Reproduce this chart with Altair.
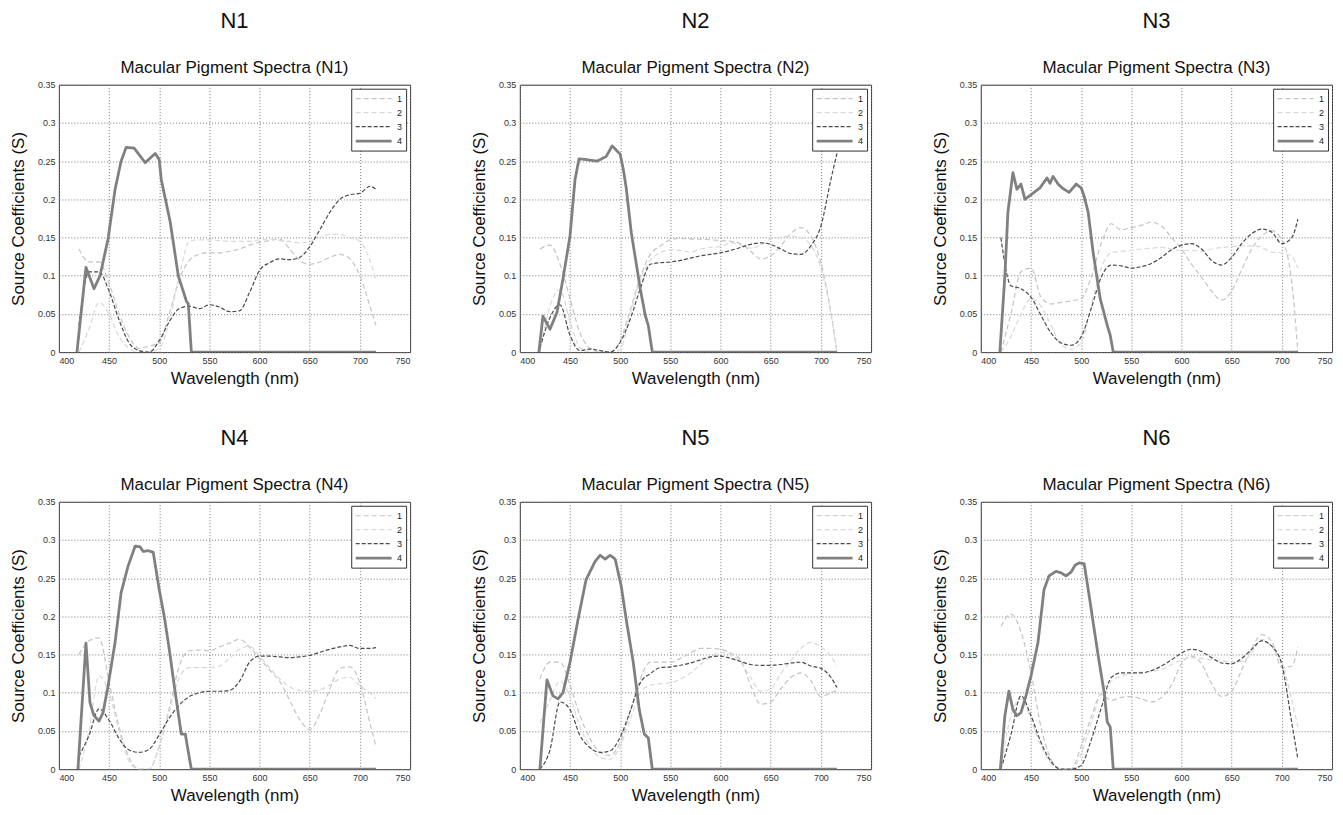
import altair as alt
import pandas as pd

FONT = "Liberation Sans"

# common wavelength grid for components 1-3
WL = [420, 430, 440, 450, 460, 470, 480, 490, 500, 510, 520, 530, 540, 550, 560,
      570, 580, 590, 600, 610, 620, 630, 640, 650, 660, 670, 680, 690, 700, 710, 716]

X_TICKS = [400, 450, 500, 550, 600, 650, 700, 750]
Y_TICKS = [0, 0.05, 0.1, 0.15, 0.2, 0.25, 0.3, 0.35]
SERIES = ["1", "2", "3", "4"]

# ---------------- N1 ----------------
N1_S1 = [0.135, 0.118, 0.118, 0.09, 0.05, 0.02, 0.005, 0.008, 0.012, 0.05, 0.095, 0.12,
         0.128, 0.13, 0.13, 0.132, 0.135, 0.14, 0.144, 0.146, 0.148, 0.135, 0.12, 0.115,
         0.118, 0.124, 0.128, 0.122, 0.1, 0.06, 0.035]
N1_S2 = [0.0, 0.03, 0.065, 0.05, 0.02, 0.005, 0.0, 0.0, 0.005, 0.04, 0.1, 0.145,
         0.147, 0.147, 0.146, 0.145, 0.145, 0.145, 0.147, 0.148, 0.146, 0.145, 0.143, 0.145,
         0.15, 0.154, 0.154, 0.15, 0.145, 0.12, 0.095]
N1_S3 = [0.035, 0.105, 0.105, 0.08, 0.042, 0.012, 0.002, 0.0, 0.015, 0.04, 0.057, 0.06,
         0.057, 0.062, 0.059, 0.053, 0.054, 0.078, 0.107, 0.117, 0.122, 0.121, 0.124, 0.138,
         0.16, 0.183, 0.2, 0.206, 0.208, 0.217, 0.213]
N1_S4_WL = [418, 427, 435, 441, 449, 456, 462, 467, 475, 486, 496, 500, 502, 511, 519, 527, 529, 532, 716]
N1_S4 = [0, 0.111, 0.083, 0.1, 0.148, 0.213, 0.25, 0.268, 0.267, 0.248, 0.26, 0.252, 0.226,
         0.17, 0.1, 0.067, 0.063, 0, 0]

# ---------------- N2 ----------------
N2_S1 = [0.135, 0.14, 0.115, 0.07, 0.025, 0.005, 0.0, 0.0, 0.015, 0.055, 0.098, 0.128,
         0.139, 0.147, 0.149, 0.148, 0.148, 0.147, 0.146, 0.145, 0.142, 0.132, 0.122, 0.126,
         0.139, 0.155, 0.163, 0.152, 0.117, 0.052, 0.0]
N2_S2 = [0.0, 0.06, 0.082, 0.04, 0.006, 0.0, 0.0, 0.0, 0.003, 0.05, 0.095, 0.12,
         0.13, 0.134, 0.133, 0.131, 0.135, 0.137, 0.138, 0.143, 0.14, 0.136, 0.14, 0.148,
         0.15, 0.152, 0.15, 0.14, 0.11, 0.05, 0.0]
N2_S3 = [0.005, 0.045, 0.062, 0.022, 0.002, 0.004, 0.002, 0.0, 0.013, 0.043, 0.083, 0.115,
         0.117, 0.118, 0.12, 0.123, 0.126, 0.128, 0.13, 0.133, 0.137, 0.141, 0.143, 0.141,
         0.135, 0.129, 0.128, 0.139, 0.165, 0.226, 0.26]
N2_S4_WL = [419, 423, 430, 437, 443, 450, 455, 459, 466, 477, 486, 492, 500, 503, 506, 511,
            520, 525, 528, 532, 716]
N2_S4 = [0, 0.047, 0.03, 0.052, 0.096, 0.152, 0.226, 0.253, 0.252, 0.25, 0.256, 0.27, 0.259,
         0.24, 0.215, 0.157, 0.083, 0.048, 0.035, 0, 0]

# ---------------- N3 ----------------
N3_S1 = [0.0, 0.05, 0.105, 0.11, 0.072, 0.063, 0.065, 0.067, 0.07, 0.098, 0.142, 0.168,
         0.16, 0.163, 0.166, 0.17, 0.165, 0.15, 0.135, 0.115, 0.098, 0.08, 0.068, 0.08,
         0.108, 0.135, 0.152, 0.159, 0.147, 0.09, 0.0]
N3_S2 = [0.0, 0.02, 0.05, 0.07, 0.06, 0.035, 0.01, 0.004, 0.012, 0.06, 0.11, 0.13,
         0.132, 0.133, 0.135, 0.136, 0.137, 0.135, 0.133, 0.133, 0.132, 0.135, 0.137, 0.138,
         0.139, 0.139, 0.137, 0.131, 0.13, 0.125, 0.11]
N3_S3 = [0.15, 0.087, 0.083, 0.072, 0.048, 0.025, 0.012, 0.009, 0.02, 0.057, 0.098, 0.114,
         0.113, 0.11, 0.112, 0.116, 0.124, 0.134, 0.14, 0.142, 0.135, 0.12, 0.114, 0.124,
         0.142, 0.155, 0.161, 0.157, 0.142, 0.15, 0.174]
N3_S4_WL = [419, 424, 427, 432, 436, 440, 444, 451, 459, 466, 469, 472, 477, 481, 488, 495,
            500, 503, 507, 512, 519, 526, 529, 532, 716]
N3_S4 = [0, 0.1, 0.183, 0.235, 0.213, 0.22, 0.2, 0.207, 0.215, 0.228, 0.221, 0.23, 0.22,
         0.215, 0.209, 0.22, 0.215, 0.204, 0.183, 0.13, 0.07, 0.035, 0.022, 0, 0]

# ---------------- N4 ----------------
N4_S1 = [0.15, 0.168, 0.172, 0.115, 0.055, 0.015, 0.0, 0.0, 0.03, 0.08, 0.135, 0.155,
         0.156, 0.155, 0.16, 0.165, 0.17, 0.16, 0.145, 0.13, 0.115, 0.09, 0.065, 0.052,
         0.072, 0.105, 0.132, 0.134, 0.113, 0.06, 0.03]
N4_S2 = [0.0, 0.05, 0.122, 0.1, 0.05, 0.01, 0.0, 0.0, 0.03, 0.075, 0.12, 0.133,
         0.133, 0.133, 0.135, 0.145, 0.157, 0.161, 0.148, 0.133, 0.118, 0.108, 0.103, 0.102,
         0.104, 0.11, 0.118, 0.12, 0.109, 0.1, 0.092]
N4_S3 = [0.017, 0.044, 0.079, 0.064, 0.04, 0.025, 0.022, 0.026, 0.045, 0.067, 0.084, 0.095,
         0.1, 0.102, 0.102, 0.103, 0.115, 0.14, 0.148, 0.148, 0.147, 0.146, 0.147, 0.149,
         0.153, 0.157, 0.16, 0.162, 0.158, 0.158, 0.159]
N4_S4_WL = [419, 427, 431, 435, 440, 444, 449, 456, 462, 469, 476, 481, 484, 489, 494, 500,
            505, 510, 515, 522, 526, 528, 532, 716]
N4_S4 = [0, 0.165, 0.087, 0.07, 0.063, 0.074, 0.109, 0.166, 0.231, 0.266, 0.292, 0.291,
         0.285, 0.286, 0.284, 0.235, 0.2, 0.157, 0.109, 0.046, 0.046, 0.03, 0, 0]

# ---------------- N5 ----------------
N5_S1 = [0.118, 0.14, 0.14, 0.11, 0.07, 0.04, 0.022, 0.018, 0.035, 0.075, 0.118, 0.14,
         0.14, 0.14, 0.145, 0.152, 0.158, 0.158, 0.157, 0.152, 0.143, 0.11, 0.085, 0.088,
         0.105, 0.12, 0.126, 0.116, 0.095, 0.1, 0.103]
N5_S2 = [0.06, 0.09, 0.115, 0.095, 0.055, 0.03, 0.015, 0.013, 0.03, 0.065, 0.1, 0.11,
         0.112, 0.113, 0.118, 0.126, 0.137, 0.147, 0.153, 0.15, 0.14, 0.12, 0.102, 0.105,
         0.125, 0.142, 0.158, 0.166, 0.16, 0.148, 0.135]
N5_S3 = [0.0, 0.025, 0.088, 0.078, 0.044, 0.028, 0.022, 0.024, 0.042, 0.076, 0.113, 0.125,
         0.133, 0.134, 0.136, 0.139, 0.143, 0.147, 0.148, 0.145, 0.141, 0.137, 0.136, 0.136,
         0.137, 0.139, 0.14, 0.135, 0.132, 0.12, 0.107]
N5_S4_WL = [420, 427, 433, 438, 443, 450, 458, 466, 475, 480, 485, 490, 495, 501, 506, 513,
            519, 524, 528, 532, 716]
N5_S4 = [0, 0.117, 0.096, 0.092, 0.1, 0.14, 0.196, 0.248, 0.272, 0.28, 0.275, 0.28, 0.275,
         0.24, 0.196, 0.14, 0.078, 0.046, 0.041, 0, 0]

# ---------------- N6 ----------------
N6_S1 = [0.187, 0.203, 0.18, 0.126, 0.055, 0.013, 0.0, 0.0, 0.03, 0.068, 0.098, 0.09,
         0.094, 0.095, 0.092, 0.088, 0.094, 0.11, 0.138, 0.148, 0.138, 0.112, 0.095, 0.102,
         0.13, 0.158, 0.176, 0.167, 0.133, 0.135, 0.16]
N6_S2 = [0.0, 0.07, 0.092, 0.065, 0.03, 0.008, 0.0, 0.0, 0.02, 0.06, 0.1, 0.115,
         0.122, 0.125, 0.127, 0.128, 0.13, 0.137, 0.143, 0.146, 0.145, 0.143, 0.142, 0.14,
         0.141, 0.152, 0.17, 0.16, 0.14, 0.09, 0.055]
N6_S3 = [0.0, 0.045, 0.096, 0.07, 0.035, 0.01, 0.0, 0.0, 0.005, 0.038, 0.08, 0.12,
         0.126, 0.126, 0.126, 0.129, 0.135, 0.143, 0.152, 0.157, 0.154, 0.146, 0.139, 0.138,
         0.145, 0.157, 0.168, 0.161, 0.137, 0.06, 0.013]
N6_S4_WL = [419.5, 424, 428, 432, 436, 440, 445, 450, 457, 463, 468, 475, 480, 485, 490, 494,
            498, 503, 508, 513, 518, 523, 526, 529, 532, 716]
N6_S4 = [0, 0.07, 0.102, 0.078, 0.07, 0.074, 0.096, 0.122, 0.166, 0.235, 0.253, 0.259, 0.257,
         0.253, 0.258, 0.267, 0.27, 0.269, 0.227, 0.183, 0.14, 0.1, 0.062, 0.055, 0, 0]

PANELS = [
    ("N1", N1_S1, N1_S2, N1_S3, N1_S4_WL, N1_S4),
    ("N2", N2_S1, N2_S2, N2_S3, N2_S4_WL, N2_S4),
    ("N3", N3_S1, N3_S2, N3_S3, N3_S4_WL, N3_S4),
    ("N4", N4_S1, N4_S2, N4_S3, N4_S4_WL, N4_S4),
    ("N5", N5_S1, N5_S2, N5_S3, N5_S4_WL, N5_S4),
    ("N6", N6_S1, N6_S2, N6_S3, N6_S4_WL, N6_S4),
]

COLORS = ["#c4c4c4", "#d9d9d9", "#4a4a4a", "#808080"]
DASHES = [[5, 3], [5, 3], [4, 2], [1, 0]]
WIDTHS = [1.2, 1.2, 1.2, 2.8]


def panel(name, s1, s2, s3, wl4, s4):
    rows = []
    for lab, vals in (("1", s1), ("2", s2), ("3", s3)):
        rows += [{"wl": w, "v": v, "series": lab} for w, v in zip(WL, vals)]
    rows += [{"wl": w, "v": v, "series": "4"} for w, v in zip(wl4, s4)]
    df = pd.DataFrame(rows)

    enc = dict(
        x=alt.X("wl:Q", scale=alt.Scale(domain=[400, 750], nice=False, zero=False),
                axis=alt.Axis(values=X_TICKS, title="Wavelength (nm)", format="d")),
        y=alt.Y("v:Q", scale=alt.Scale(domain=[0, 0.35], nice=False),
                axis=alt.Axis(values=Y_TICKS, title="Source Coefficients (S)", format="~g")),
        color=alt.Color("series:N", title=None,
                        scale=alt.Scale(domain=SERIES, range=COLORS)),
        strokeDash=alt.StrokeDash("series:N", title=None,
                                  scale=alt.Scale(domain=SERIES, range=DASHES)),
        strokeWidth=alt.StrokeWidth("series:N", title=None,
                                    scale=alt.Scale(type="ordinal", domain=SERIES, range=WIDTHS)),
    )
    base = alt.Chart(df)
    dashed = base.transform_filter(alt.datum.series != "4").mark_line(
        interpolate="monotone", clip=True).encode(**enc)
    solid = base.transform_filter(alt.datum.series == "4").mark_line(
        clip=True, strokeJoin="round").encode(**enc)
    return alt.layer(dashed, solid).properties(
        width=352, height=268,
        title=alt.TitleParams(
            text=name, subtitle=f"Macular Pigment Spectra ({name})",
            font=FONT, fontSize=22, fontWeight="normal", color="#111",
            subtitleFont=FONT, subtitleFontSize=17, subtitleColor="#111",
            subtitlePadding=27, offset=4, anchor="middle", frame="group"),
    )


charts = [panel(*p) for p in PANELS]

IND = dict(color="independent", strokeDash="independent", strokeWidth="independent")


def row(cs):
    return alt.hconcat(*cs, spacing=58).resolve_scale(**IND).resolve_legend(**IND)


chart = alt.vconcat(row(charts[:3]), row(charts[3:]), spacing=39).resolve_scale(
    **IND).resolve_legend(**IND).configure(
    background="white", padding={"left": 0, "top": 0, "right": 2, "bottom": 0}
).configure_view(
    stroke="#333", strokeWidth=1
).configure_axis(
    grid=True, gridColor="#777", gridDash=[1, 2], gridOpacity=1, gridWidth=1,
    domain=False, ticks=False,
    labelFont=FONT, labelFontSize=9, labelColor="#333", labelPadding=4,
    titleFont=FONT, titleFontSize=17, titleFontWeight="normal", titleColor="#111",
).configure_axisY(titlePadding=10).configure_axisX(titlePadding=5).configure_legend(
    orient="top-right", offset=4, strokeColor="#333", fillColor="white",
    padding=3, symbolType="M-3,0H3", symbolSize=144, labelFont=FONT,
    labelFontSize=9, labelColor="#222", rowPadding=2, symbolOffset=12,
    labelOffset=16,
)

chart.save("out.html", embed_options={"renderer": "svg", "actions": False})
